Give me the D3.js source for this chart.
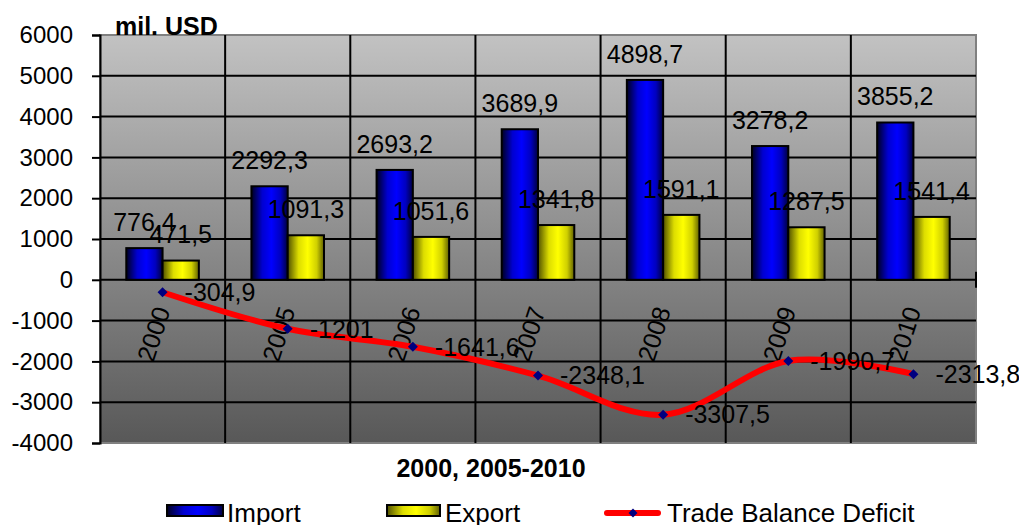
<!DOCTYPE html>
<html>
<head>
<meta charset="utf-8">
<script src="https://cdn.jsdelivr.net/npm/d3@7"></script>
<style>
  body { margin: 0; background: #fff; }
  svg { display: block; font-family: "Liberation Sans", Arial, sans-serif; }
</style>
</head>
<body>
<svg width="1019" height="525"></svg>
<script>
// data
var years = ["2000", "2005", "2006", "2007", "2008", "2009", "2010"];
var importVals = [776.4, 2292.3, 2693.2, 3689.9, 4898.7, 3278.2, 3855.2];
var exportVals = [471.5, 1091.3, 1051.6, 1341.8, 1591.1, 1287.5, 1541.4];
var deficitVals = [-304.9, -1201, -1641.6, -2348.1, -3307.5, -1990.7, -2313.8];
var yTicks = [-4000, -3000, -2000, -1000, 0, 1000, 2000, 3000, 4000, 5000, 6000];

(function() {
	var svg = d3.select("svg");
	var pLeft = 100, pRight = 976, pTop = 35, pBottom = 443;

	var x = d3.scaleBand().domain(years).range([pLeft, pRight]);
	var y = d3.scaleLinear().domain([-4000, 6000]).range([pBottom, pTop]);
	var groupW = x.bandwidth() * 0.58;
	var xs = d3.scaleBand().domain(["imp", "exp"]).range([0, groupW]);

	function fmt(v) { return String(v).replace(".", ","); }
	function cx(i) { return x(years[i]) + x.bandwidth() / 2; }

	// gradients
	var defs = svg.append("defs");
	var bg = defs.append("linearGradient").attr("id", "bg")
		.attr("x1", 0).attr("y1", 0).attr("x2", 0).attr("y2", 1);
	bg.append("stop").attr("offset", "0%").attr("stop-color", "#c2c2c2");
	bg.append("stop").attr("offset", "100%").attr("stop-color", "#585858");

	function hGrad(id, stops) {
		var g = defs.append("linearGradient").attr("id", id)
			.attr("x1", 0).attr("y1", 0).attr("x2", 1).attr("y2", 0);
		stops.forEach(function(s) {
			g.append("stop").attr("offset", s[0]).attr("stop-color", s[1]);
		});
	}
	hGrad("gImp", [["0%", "#000020"], ["30%", "#0000d0"], ["55%", "#0000ff"], ["80%", "#0000c0"], ["100%", "#000040"]]);
	hGrad("gExp", [["0%", "#505000"], ["30%", "#dddd00"], ["55%", "#ffff00"], ["80%", "#d0d000"], ["100%", "#606000"]]);

	// plot area
	svg.append("rect")
		.attr("x", pLeft).attr("y", pTop)
		.attr("width", pRight - pLeft).attr("height", pBottom - pTop)
		.attr("fill", "url(#bg)")
		.attr("stroke", "#808080")
		.attr("stroke-width", 2);

	// horizontal gridlines
	svg.append("g").selectAll("line")
		.data(yTicks.filter(function(d) { return d > -4000 && d < 6000 && d != 0; }))
		.enter().append("line")
		.attr("x1", pLeft).attr("x2", pRight)
		.attr("y1", function(d) { return y(d); })
		.attr("y2", function(d) { return y(d); })
		.attr("stroke", "#000").attr("stroke-width", 2);

	// vertical gridlines
	svg.append("g").selectAll("line")
		.data(years.slice(1))
		.enter().append("line")
		.attr("x1", function(d) { return x(d); })
		.attr("x2", function(d) { return x(d); })
		.attr("y1", pTop).attr("y2", pBottom)
		.attr("stroke", "#000").attr("stroke-width", 2);

	// y axis
	var yAxis = svg.append("g")
		.attr("transform", "translate(" + pLeft + ",0)")
		.call(d3.axisLeft(y).tickValues(yTicks).tickSize(8).tickPadding(19)
			.tickFormat(function(d) { return String(d); }));
	yAxis.select(".domain").attr("stroke", "#000").attr("stroke-width", 2);
	yAxis.selectAll(".tick line").attr("stroke", "#000").attr("stroke-width", 2);
	yAxis.selectAll(".tick text")
		.attr("font-size", 24).attr("fill", "#000")
		.attr("font-family", "Liberation Sans, Arial, sans-serif");

	// zero axis
	svg.append("line")
		.attr("x1", pLeft).attr("x2", pRight)
		.attr("y1", y(0)).attr("y2", y(0))
		.attr("stroke", "#000").attr("stroke-width", 2);
	svg.append("line")
		.attr("x1", pRight).attr("x2", pRight)
		.attr("y1", y(0) - 8).attr("y2", y(0) + 8)
		.attr("stroke", "#000").attr("stroke-width", 2);

	// bars
	var groups = svg.append("g").selectAll("g")
		.data(years)
		.enter().append("g")
		.attr("transform", function(d) {
			return "translate(" + (x(d) + (x.bandwidth() - groupW) / 2) + ",0)";
		});

	groups.append("rect")
		.attr("x", xs("imp"))
		.attr("width", xs.bandwidth())
		.attr("y", function(d, i) { return y(importVals[i]); })
		.attr("height", function(d, i) { return y(0) - y(importVals[i]); })
		.attr("fill", "url(#gImp)")
		.attr("stroke", "#000").attr("stroke-width", 2);

	groups.append("rect")
		.attr("x", xs("exp"))
		.attr("width", xs.bandwidth())
		.attr("y", function(d, i) { return y(exportVals[i]); })
		.attr("height", function(d, i) { return y(0) - y(exportVals[i]); })
		.attr("fill", "url(#gExp)")
		.attr("stroke", "#000").attr("stroke-width", 2);

	// category labels (rotated)
	svg.append("g").selectAll("text")
		.data(years)
		.enter().append("text")
		.attr("transform", function(d, i) {
			return "translate(" + (cx(i) - 9) + ",334) rotate(-72)";
		})
		.attr("text-anchor", "middle")
		.attr("dy", "0.35em")
		.attr("font-size", 25)
		.text(function(d) { return d; });

	// trade balance line
	var line = d3.line()
		.x(function(d, i) { return cx(i); })
		.y(function(d) { return y(d); })
		.curve(d3.curveCardinal.tension(0));

	svg.append("path")
		.datum(deficitVals)
		.attr("d", line)
		.attr("fill", "none")
		.attr("stroke", "#ff0000")
		.attr("stroke-width", 6);

	svg.append("g").selectAll("path")
		.data(deficitVals)
		.enter().append("path")
		.attr("d", d3.symbol(d3.symbolSquare, 50))
		.attr("transform", function(d, i) {
			return "translate(" + cx(i) + "," + y(d) + ") rotate(45)";
		})
		.attr("fill", "#000080");

	// value labels
	var labels = svg.append("g").attr("font-size", 25).attr("fill", "#000");
	var off = (x.bandwidth() - groupW) / 2;
	labels.selectAll("text.imp")
		.data(importVals)
		.enter().append("text")
		.attr("class", "imp")
		.attr("x", function(d, i) { return x(years[i]) + off + xs("imp") + xs.bandwidth() / 2; })
		.attr("y", function(d) { return y(d) - 26; })
		.attr("dy", "0.35em")
		.attr("text-anchor", "middle")
		.text(fmt);

	labels.selectAll("text.exp")
		.data(exportVals)
		.enter().append("text")
		.attr("class", "exp")
		.attr("x", function(d, i) { return x(years[i]) + off + xs("exp") + xs.bandwidth() / 2; })
		.attr("y", function(d) { return y(d) - 26; })
		.attr("dy", "0.35em")
		.attr("text-anchor", "middle")
		.text(fmt);

	labels.selectAll("text.def")
		.data(deficitVals)
		.enter().append("text")
		.attr("class", "def")
		.attr("x", function(d, i) { return cx(i) + 22; })
		.attr("y", function(d) { return y(d); })
		.attr("dy", "0.35em")
		.text(fmt);

	// titles
	svg.append("text")
		.attr("x", 115).attr("y", 35)
		.attr("font-size", 25).attr("font-weight", "bold")
		.text("mil. USD");

	svg.append("text")
		.attr("x", 491).attr("y", 477)
		.attr("text-anchor", "middle")
		.attr("font-size", 25).attr("font-weight", "bold")
		.text("2000, 2005-2010");

	// legend
	var leg = svg.append("g").attr("font-size", 26);
	leg.append("rect").attr("x", 167).attr("y", 505).attr("width", 56).attr("height", 11)
		.attr("fill", "url(#gImp)").attr("stroke", "#000").attr("stroke-width", 2);
	leg.append("text").attr("x", 227).attr("y", 522).text("Import");
	leg.append("rect").attr("x", 387).attr("y", 505).attr("width", 53).attr("height", 11)
		.attr("fill", "url(#gExp)").attr("stroke", "#000").attr("stroke-width", 2);
	leg.append("text").attr("x", 445).attr("y", 522).text("Export");
	leg.append("line").attr("x1", 607).attr("x2", 658).attr("y1", 513).attr("y2", 513)
		.attr("stroke", "#ff0000").attr("stroke-width", 6).attr("stroke-linecap", "round");
	leg.append("path").attr("d", d3.symbol(d3.symbolSquare, 40))
		.attr("transform", "translate(633,513) rotate(45)").attr("fill", "#000080");
	leg.append("text").attr("x", 667).attr("y", 522).text("Trade Balance Deficit");
})();
</script>
</body>
</html>
